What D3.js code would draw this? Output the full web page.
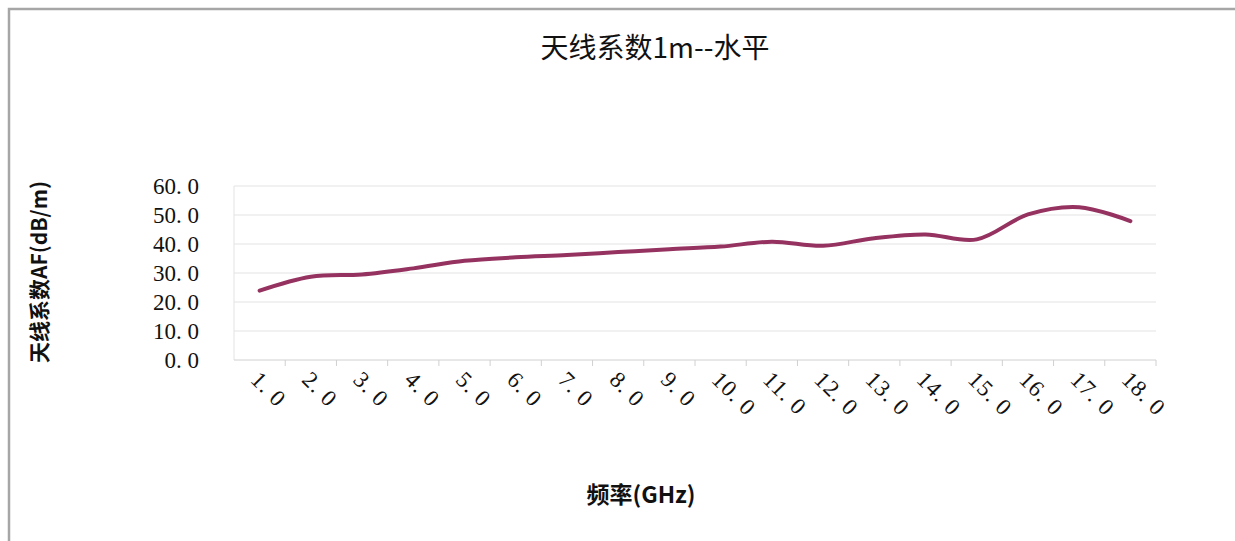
<!DOCTYPE html>
<html>
<head>
<meta charset="utf-8">
<script src="https://cdn.jsdelivr.net/npm/d3@7"></script>
<style>
  html, body { margin: 0; padding: 0; background: #fff; }
  svg { display: block; }
</style>
</head>
<body>
<div id="chart"></div>
<script>
// chart data
const freqs = ['1.0','2.0','3.0','4.0','5.0','6.0','7.0','8.0','9.0','10.0',
               '11.0','12.0','13.0','14.0','15.0','16.0','17.0','18.0'];
const afValues = [23.9, 28.7, 29.5, 31.6, 34.2, 35.4, 36.2, 37.2, 38.2, 39.1,
                  40.8, 39.4, 42.0, 43.3, 41.6, 50.2, 52.7, 47.9];
const yTicks = [0, 10, 20, 30, 40, 50, 60];

const W = 1235, H = 541;
const plot = { left: 234, right: 1156, top: 186, bottom: 360 };

const svg = d3.select('#chart')
    .append('svg')
    .attr('width', W)
    .attr('height', H);

// outer chart frame (only top and left edges show)
svg.append('path')
    .attr('d', `M9,${H} L9,9 L${W},9`)
    .attr('fill', 'none')
    .attr('stroke', '#a6a6a6')
    .attr('stroke-width', 2.5);

const x = d3.scaleBand()
    .domain(freqs)
    .range([plot.left, plot.right])
    .padding(0);

const y = d3.scaleLinear()
    .domain([0, 60])
    .range([plot.bottom, plot.top]);

// gridlines
svg.append('g')
    .selectAll('line')
    .data(yTicks.slice(1))
    .join('line')
    .attr('x1', plot.left)
    .attr('x2', plot.right)
    .attr('y1', d => y(d))
    .attr('y2', d => y(d))
    .attr('stroke', '#e3e3e3')
    .attr('stroke-width', 1);

// left edge of plot
svg.append('line')
    .attr('x1', plot.left).attr('x2', plot.left)
    .attr('y1', plot.top).attr('y2', plot.bottom)
    .attr('stroke', '#e3e3e3');

// x axis line + tick marks at category boundaries
svg.append('line')
    .attr('x1', plot.left).attr('x2', plot.right)
    .attr('y1', plot.bottom).attr('y2', plot.bottom)
    .attr('stroke', '#d0d0d0');

svg.append('g')
    .selectAll('line')
    .data(freqs)
    .join('line')
    .attr('x1', d => x(d) + x.bandwidth())
    .attr('x2', d => x(d) + x.bandwidth())
    .attr('y1', plot.bottom)
    .attr('y2', plot.bottom + 6)
    .attr('stroke', '#d0d0d0');

// y tick labels
svg.append('g')
    .selectAll('text')
    .data(yTicks)
    .join('text')
    .attr('x', 199)
    .attr('y', d => y(d))
    .attr('dy', '0.35em')
    .attr('text-anchor', 'end')
    .attr('font-family', 'Liberation Serif, serif')
    .attr('font-size', 23)
    .attr('fill', '#111')
    .text(d => d.toFixed(1).replace('.', '. '));

// x tick labels, rotated
svg.append('g')
    .selectAll('text')
    .data(freqs)
    .join('text')
    .attr('transform', d => `translate(${x(d) + x.bandwidth() / 2 - 10},${plot.bottom + 21}) rotate(45)`)
    .attr('text-anchor', 'start')
    .attr('font-family', 'Liberation Serif, serif')
    .attr('font-size', 23)
    .attr('letter-spacing', 1)
    .attr('fill', '#111')
    .text(d => d.replace('.', '. '));

// the series line
const line = d3.line()
    .x((d, i) => x(freqs[i]) + x.bandwidth() / 2)
    .y(d => y(d))
    .curve(d3.curveCatmullRom.alpha(0.5));

svg.append('path')
    .datum(afValues)
    .attr('d', line)
    .attr('fill', 'none')
    .attr('stroke', '#953260')
    .attr('stroke-width', 4)
    .attr('stroke-linecap', 'round');

// titles
svg.append('text')
    .attr('x', 655)
    .attr('y', 58)
    .attr('text-anchor', 'middle')
    .attr('font-family', 'Noto Sans CJK SC, sans-serif')
    .attr('font-size', 28)
    .attr('fill', '#111')
    .text('天线系数1m--水平');

svg.append('text')
    .attr('x', 641)
    .attr('y', 503)
    .attr('text-anchor', 'middle')
    .attr('font-family', 'Noto Sans CJK SC, sans-serif')
    .attr('font-size', 23)
    .attr('font-weight', 'bold')
    .attr('fill', '#111')
    .text('频率(GHz)');

svg.append('text')
    .attr('transform', 'translate(47,272) rotate(-90)')
    .attr('text-anchor', 'middle')
    .attr('font-family', 'Noto Sans CJK SC, sans-serif')
    .attr('font-size', 21)
    .attr('font-weight', 'bold')
    .attr('fill', '#111')
    .text('天线系数AF(dB/m)');
</script>
</body>
</html>
